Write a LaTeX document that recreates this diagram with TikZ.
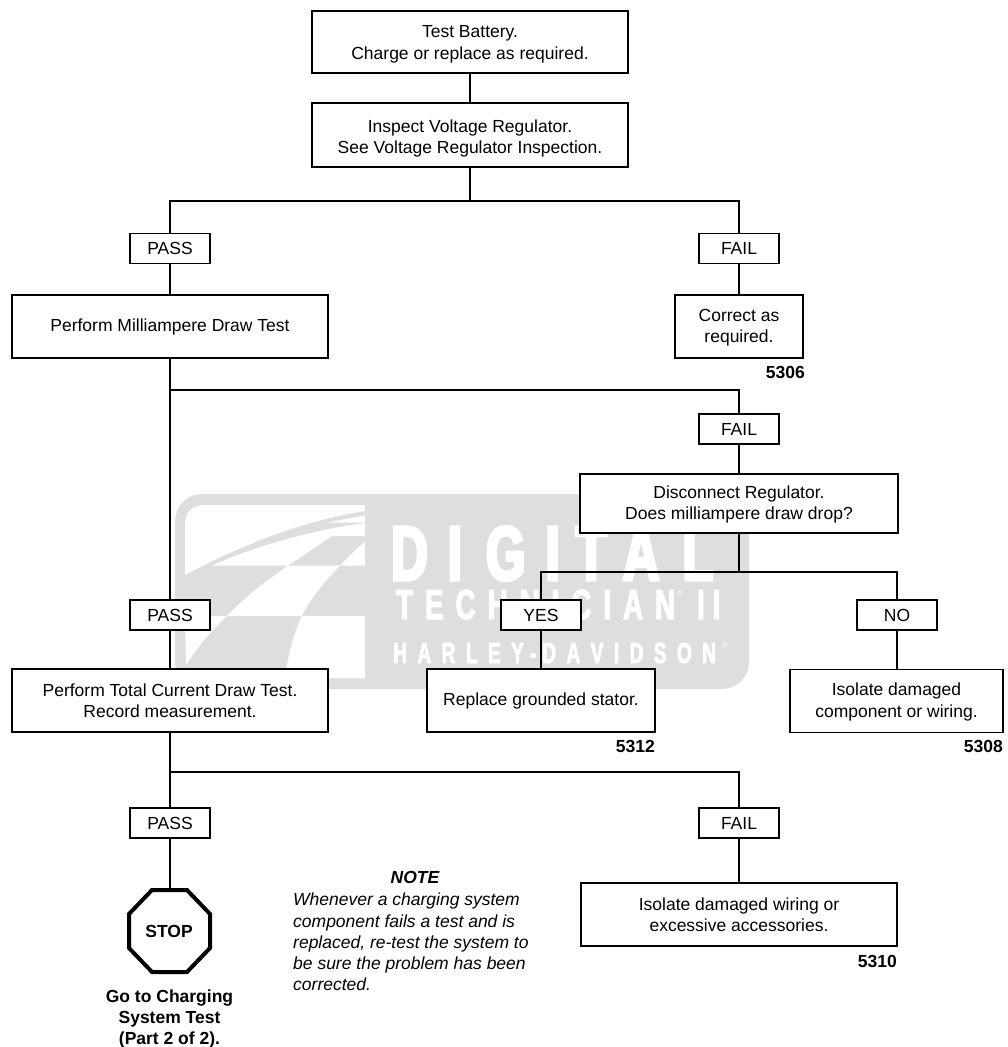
\documentclass[tikz,border=0pt]{standalone}
\usepackage{fontspec}
\setmainfont{Liberation Sans}
\newfontfamily\wmfont[FakeStretch=0.66,FakeBold=4]{Liberation Sans Bold}
\newfontfamily\wmfontb[FakeStretch=0.66,FakeBold=2.5]{Liberation Sans Bold}
\definecolor{wm}{gray}{0.87}
\tikzset{
 x=1pt,y=-1pt,
 txt/.style={font=\fontsize{17.5}{21.3}\selectfont,align=center,text=black},
 bx/.style={txt,draw=black,line width=1.4pt,fill=white,inner sep=0pt,anchor=center},
 tag/.style={bx,minimum width=80pt,minimum height=30pt},
 code/.style={font=\fontsize{17.5}{20}\bfseries\selectfont,inner sep=0pt,anchor=east},
 ln/.style={draw=black,line width=1.4pt},
 wmt/.style={text=white,inner sep=0pt,anchor=base west},
}
\newcommand{\bxnode}[6]{\node[bx,minimum width=#3 pt - #2 pt,minimum height=#5 pt - #4 pt] (#1) at ({(#2+#3)/2},{(#4+#5)/2}) {#6};}
\newcommand{\dn}[1]{\rule{0pt}{\dimexpr 12.7pt+#1pt+#1pt\relax}}
\begin{document}
\begin{tikzpicture}
\useasboundingbox (0,0) rectangle (1008,1047);
% watermark
\fill[wm,rounded corners=27pt] (175,494) rectangle (749,689);
\fill[white] (185,575) .. controls (240,546) and (300,521) .. (365,511) -- (365,505) -- (203,505) .. controls (193,505) and (185,513) .. (185,523) -- cycle;
\fill[white] (328,522.5) .. controls (340,520) and (352,517.5) .. (365,515.5) -- (365,522.5) -- cycle;
\fill[white] (212,565.7) .. controls (240,552) and (310,529) .. (365,523.3) -- (365,536) -- (332,536) -- (288,565.7) -- cycle;
\fill[white] (365,541.7) -- (365,565.7) -- (340,565.7) .. controls (348,557) and (356,549) .. (365,541.7) -- cycle;
\fill[white] (288,565.7) -- (340,565.7) .. controls (324,582) and (311,598) .. (301.7,616) -- (227,616) .. controls (246,596) and (266,581) .. (288,565.7) -- cycle;
\fill[white] (185,616) -- (227,616) .. controls (210,632) and (197,648) .. (186,665) -- cycle;
\fill[white] (301.7,616) -- (365,616) -- (365,678) -- (285,678) .. controls (288,655) and (293,636) .. (301.7,616) -- cycle;
\node[wmt,font=\wmfont\fontsize{77}{77}\selectfont] (wm1) at (391,580) {D\hspace{20pt}I\hspace{24pt}G\hspace{20pt}I\hspace{16pt}T\hspace{16pt}A\hspace{23pt}L};
\node[wmt,font=\wmfontb\fontsize{42}{42}\selectfont] (wm2) at (396,619) {T\hspace{12pt}E\hspace{12pt}C\hspace{12pt}H\hspace{12pt}N\hspace{12pt}I\hspace{12pt}C\hspace{12pt}I\hspace{12pt}A\hspace{12pt}N\hspace{22pt}I\hspace{8pt}I};
\node[wmt,font=\wmfontb\fontsize{29}{29}\selectfont] (wm3) at (393,663) {H\hspace{10.4pt}A\hspace{10.4pt}R\hspace{10.4pt}L\hspace{10.4pt}E\hspace{10.4pt}Y\hspace{6pt}-\hspace{6pt}D\hspace{10.4pt}A\hspace{10.4pt}V\hspace{10.4pt}I\hspace{10.4pt}D\hspace{10.4pt}S\hspace{10.4pt}O\hspace{10.4pt}N};
\node[text=white,inner sep=0pt,font=\fontsize{7}{7}\selectfont] (wm4) at (680,593) {®};
\node[text=white,inner sep=0pt,font=\fontsize{7}{7}\selectfont] (wm5) at (725,645) {®};
% boxes
\bxnode{bat}{312}{628}{11}{73}{\dn{2}Test Battery.\\Charge or replace as required.}
\bxnode{reg}{312}{628}{103}{167}{\dn{3.5}Inspect Voltage Regulator.\\See Voltage Regulator Inspection.}
\bxnode{mil}{12}{328}{295}{358}{Perform Milliampere Draw Test}
\bxnode{cor}{675}{803}{295}{358}{\dn{1}Correct as\\required.}
\bxnode{dis}{580}{898}{474}{533}{\dn{1}Disconnect Regulator.\\Does milliampere draw drop?}
\bxnode{tot}{12}{328}{669}{732}{Perform Total Current Draw Test.\\Record measurement.}
\bxnode{sta}{427}{655}{669}{732}{Replace grounded stator.}
\bxnode{iso}{790}{1003}{669.5}{732.5}{\dn{1}Isolate damaged\\component or wiring.}
\bxnode{acc}{581}{897}{883}{946}{Isolate damaged wiring or\\excessive accessories.}
% tags
\node[tag] (p1) at (170,248.5) {PASS};
\node[tag] (f1) at (739,248.5) {FAIL};
\node[tag] (f2) at (739,429) {FAIL};
\node[tag] (p2) at (170,615) {PASS};
\node[tag] (yes) at (541,615) {YES};
\node[tag] (no) at (897,615) {NO};
\node[tag] (p3) at (170,823) {PASS};
\node[tag] (f3) at (739,823) {FAIL};
% stop
\coordinate (stopT) at (170,890);
\draw[black,line width=4pt,line join=miter,fill=white] (152,890) -- (187,890) -- (210,914) -- (210,948) -- (187,972) -- (152,972) -- (129,948) -- (129,914) -- cycle;
\node[font=\fontsize{17.5}{20}\bfseries\selectfont,inner sep=0pt] (stop) at (169,931) {STOP};
% junctions
\coordinate (j1) at (470,201);
\coordinate (j2) at (170,390);
\coordinate (j3) at (739,572);
\coordinate (j4) at (170,772);
% connectors
\draw[ln] (bat) -- (reg);
\draw[ln] (reg) -- (j1);
\draw[ln] (j1) -| (p1);
\draw[ln] (j1) -| (f1);
\draw[ln] (p1) -- (p1 |- mil.north);
\draw[ln] (f1) -- (cor.north -| f1);
\draw[ln] (mil.south -| p2) -- (p2);
\draw[ln] (j2) -| (f2);
\draw[ln] (f2) -- (dis.north -| f2);
\draw[ln] (dis.south -| j3) -- (j3);
\draw[ln] (j3) -| (yes);
\draw[ln] (j3) -| (no);
\draw[ln] (p2) -- (tot.north -| p2);
\draw[ln] (yes) -- (sta.north -| yes);
\draw[ln] (no) -- (iso.north -| no);
\draw[ln] (tot.south -| p3) -- (p3);
\draw[ln] (j4) -| (f3);
\draw[ln] (p3) -- (stopT);
\draw[ln] (f3) -- (acc.north -| f3);
\node[code] (c1) at (805,372) {5306};
\node[code] (c2) at (655,746) {5312};
\node[code] (c3) at (1003,746) {5308};
\node[code] (c4) at (897,961) {5310};
\node[font=\fontsize{17.5}{21.3}\bfseries\selectfont,align=center,inner sep=0pt] (go) at (169.5,1019) {Go to Charging\\System Test\\(Part 2 of 2).};
\node[font=\fontsize{17.5}{21.3}\bfseries\itshape\selectfont,inner sep=0pt] (nt) at (415,877) {NOTE};
\node[font=\fontsize{17.5}{21.2}\itshape\selectfont,align=left,anchor=north west,inner sep=0pt] (nb) at (293,893) {Whenever a charging system\\component fails a test and is\\replaced, re-test the system to\\be sure the problem has been\\corrected.};
\end{tikzpicture}
\end{document}
